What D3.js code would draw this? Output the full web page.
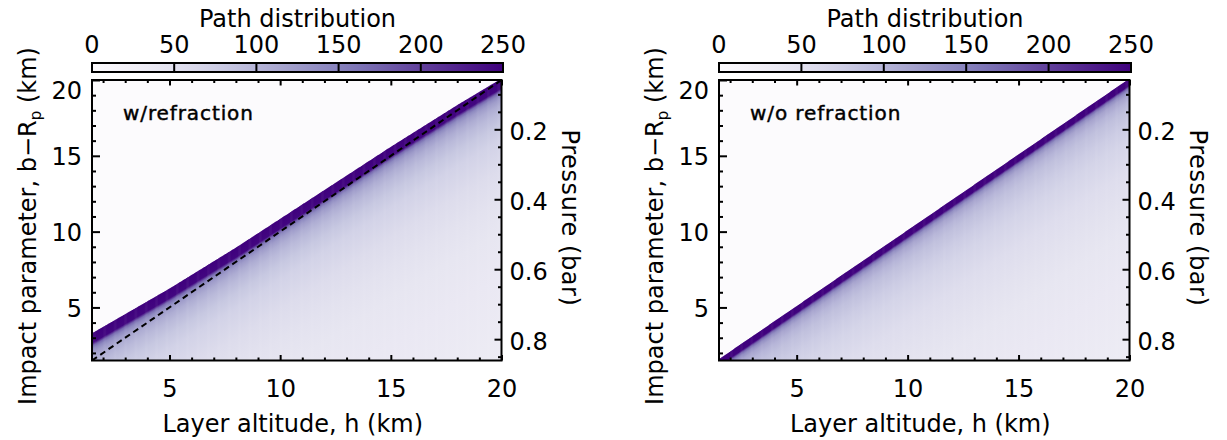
<!DOCTYPE html>
<html><head><meta charset="utf-8">
<script src="https://cdn.jsdelivr.net/npm/d3@7"></script>
<style>
body{margin:0;background:#fff}
text{font-family:"DejaVu Sans",sans-serif;fill:#000}
</style>
</head><body>
<svg id="c" width="1227" height="440"></svg>
<script>
// ---------------- data ----------------
const altDomain = [1.5, 20];          // layer altitude h (km)
const impactDomain = [1.5, 20];       // impact parameter b-Rp (km)
const pressureDomain = [0.059, 0.861];// pressure (bar), top -> bottom
const altTicks = [5, 10, 15, 20];
const altMinor = [2,3,4,6,7,8,9,11,12,13,14,16,17,18,19];
const impactTicks = [5, 10, 15, 20];
const impactMinor = [2,3,4,6,7,8,9,11,12,13,14,16,17,18,19];
const pressureTicks = [0.2, 0.4, 0.6, 0.8];
const pressureMinor = [0.1,0.15,0.25,0.3,0.35,0.45,0.5,0.55,0.65,0.7,0.75,0.85];
const cbarTicks = [0, 50, 100, 150, 200, 250];
const panelLabels = ["w/refraction", "w/o refraction"];
// top edge of the path-distribution peak: offset (b - h) in km vs layer altitude
const refrPeakH = [1.5, 5, 8, 10, 15, 18, 20];
const refrPeakOffset = [1.8, 1.25, 0.95, 0.85, 0.6, 0.35, 0.1];
const noRefrPeakH = [1.5, 20];
const noRefrPeakOffset = [0.1, 0.1];
// path distribution vs depth below the peak top (km)
const refrDepth = [0, 0.65, 0.85, 1.05, 1.3, 1.7, 2.2, 3, 4, 6, 8, 10, 13, 19];
const refrValue = [250, 245, 170, 142, 124, 108, 96, 82, 70, 57, 49, 43, 38, 32];
const noRefrDepth = [0, 0.45, 0.6, 0.78, 1.05, 1.5, 2, 3, 4, 6, 8, 10, 13, 18.5];
const noRefrValue = [250, 248, 170, 138, 116, 100, 90, 77, 68, 56, 48, 43, 38, 32];
// geometric (straight-line) tangent b = h
const geomLine = [[1.5, 1.5], [20, 20]];

// ---------------- layout ----------------
const svg = d3.select("#c");
const defs = svg.append("defs");
const color = d3.scaleSequential(d3.interpolatePurples).domain([0, 250]);
const panels = [
  {x0: 92, x1: 501.5, peakH: refrPeakH, peakOff: refrPeakOffset, depth: refrDepth, value: refrValue, dashed: true},
  {x0: 719, x1: 1129.5, peakH: noRefrPeakH, peakOff: noRefrPeakOffset, depth: noRefrDepth, value: noRefrValue, dashed: false}
];
const y0 = 80, y1 = 360.5;
let gid = 0;

panels.forEach((p, pi) => {
  const x = d3.scaleLinear().domain(altDomain).range([p.x0, p.x1]);
  const y = d3.scaleLinear().domain(impactDomain).range([y1, y0]);
  const yP = d3.scaleLinear().domain(pressureDomain).range([y0, y1]);
  const g = svg.append("g");

  const cid = "clip" + pi;
  defs.append("clipPath").attr("id", cid).append("rect")
    .attr("x", p.x0).attr("y", y0).attr("width", p.x1 - p.x0).attr("height", y1 - y0);

  const field = g.append("g").attr("clip-path", `url(#${cid})`);
  field.append("rect").attr("x", p.x0).attr("y", y0).attr("width", p.x1 - p.x0).attr("height", y1 - y0)
    .attr("fill", color(0));

  const offS = d3.scaleLinear().domain(p.peakH).range(p.peakOff);
  const maxD = p.depth[p.depth.length - 1];
  const step = 0.05;
  const edges = d3.range(altDomain[0], altDomain[1] + 1e-9, step);
  for (let i = 0; i < edges.length - 1; i++) {
    const ha = edges[i], hb = edges[i + 1], hm = (ha + hb) / 2;
    const bm = hm + offS(hm);
    const id = "g" + (gid++);
    const grad = defs.append("linearGradient").attr("id", id)
      .attr("gradientUnits", "userSpaceOnUse")
      .attr("x1", x(hm)).attr("x2", x(hm))
      .attr("y1", y(bm)).attr("y2", y(bm - maxD));
    p.depth.forEach((d, k) => grad.append("stop")
      .attr("offset", d / maxD).attr("stop-color", color(p.value[k])));
    const xa = x(ha), xb = x(hb) + 0.6;
    field.append("path")
      .attr("d", `M${xa},${y(ha + offS(ha))}L${xb},${y(hb + offS(hb))}L${xb},${y1}L${xa},${y1}Z`)
      .attr("fill", `url(#${id})`);
  }

  if (p.dashed) {
    field.append("path").datum(geomLine)
      .attr("d", d3.line().x(d => x(d[0])).y(d => y(d[1])))
      .attr("fill", "none").attr("stroke", "#000").attr("stroke-width", 2)
      .attr("stroke-dasharray", "6,4");
  }

  const fontSize = 24;
  const bottom = g.append("g").attr("transform", `translate(0,${y1})`)
    .call(d3.axisBottom(x).tickValues(altTicks).tickSizeInner(-5.5).tickSizeOuter(0).tickFormat(d3.format("d")));
  bottom.selectAll("text").attr("dy", null).attr("y", 36.5).style("font-size", fontSize + "px");
  g.append("g").attr("transform", `translate(0,${y1})`)
    .call(d3.axisBottom(x).tickValues(altMinor).tickSizeInner(-3).tickSizeOuter(0).tickFormat(""));
  g.append("g").attr("transform", `translate(0,${y0})`)
    .call(d3.axisTop(x).tickValues(altTicks).tickSizeInner(-5.5).tickSizeOuter(0).tickFormat(""));
  g.append("g").attr("transform", `translate(0,${y0})`)
    .call(d3.axisTop(x).tickValues(altMinor).tickSizeInner(-3).tickSizeOuter(0).tickFormat(""));

  const left = g.append("g").attr("transform", `translate(${p.x0},0)`)
    .call(d3.axisLeft(y).tickValues(impactTicks).tickSizeInner(-8).tickSizeOuter(0).tickPadding(10).tickFormat(d3.format("d")));
  left.selectAll("text").attr("dy", null)
    .attr("y", d => Math.max(9, y0 + 18 - y(d))).style("font-size", fontSize + "px");
  g.append("g").attr("transform", `translate(${p.x0},0)`)
    .call(d3.axisLeft(y).tickValues(impactMinor).tickSizeInner(-4).tickSizeOuter(0).tickFormat(""));

  const right = g.append("g").attr("transform", `translate(${p.x1},0)`)
    .call(d3.axisRight(yP).tickValues(pressureTicks).tickSizeInner(-7).tickSizeOuter(0).tickPadding(8).tickFormat(d3.format(".1f")));
  right.selectAll("text").attr("dy", null).attr("y", 10).style("font-size", fontSize + "px");
  g.append("g").attr("transform", `translate(${p.x1},0)`)
    .call(d3.axisRight(yP).tickValues(pressureMinor).tickSizeInner(-3.5).tickSizeOuter(0).tickFormat(""));

  g.selectAll(".domain").remove();
  g.selectAll(".tick line").attr("stroke", "#000").attr("stroke-width", 2);

  g.append("rect").attr("x", p.x0).attr("y", y0).attr("width", p.x1 - p.x0).attr("height", y1 - y0)
    .attr("fill", "none").attr("stroke", "#000").attr("stroke-width", 2);

  g.append("text").attr("x", p.x0 + 31).attr("y", 120).style("font-size", "20px")
    .style("letter-spacing", "0.9px").attr("stroke", "#000").attr("stroke-width", 0.45)
    .text(panelLabels[pi]);

  g.append("text").attr("x", (p.x0 + p.x1) / 2 - 4).attr("y", 432).attr("text-anchor", "middle")
    .style("font-size", fontSize + "px").text("Layer altitude, h (km)");
  const yt = g.append("text").attr("transform", `translate(${p.x0 - 56},226) rotate(-90)`)
    .attr("text-anchor", "middle").style("font-size", fontSize + "px");
  yt.append("tspan").text("Impact parameter, b\u2212R");
  yt.append("tspan").attr("dy", 5).style("font-size", "15px").text("p");
  yt.append("tspan").attr("dy", -5).text(" (km)");
  g.append("text").attr("transform", `translate(${p.x1 + 60},218) rotate(90)`)
    .attr("text-anchor", "middle").style("font-size", fontSize + "px")
    .style("letter-spacing", "0.6px").text("Pressure (bar)");

  const cx = d3.scaleLinear().domain([cbarTicks[0], cbarTicks[cbarTicks.length - 1]]).range([p.x0, p.x1 + 1.5]);
  const cgid = "cbar" + pi;
  const cg = defs.append("linearGradient").attr("id", cgid);
  d3.range(0, 1.0001, 0.05).forEach(t => cg.append("stop").attr("offset", t).attr("stop-color", d3.interpolatePurples(t)));
  const cb = svg.append("g");
  cb.append("rect").attr("x", cx(0)).attr("y", 63).attr("width", cx(250) - cx(0)).attr("height", 9)
    .attr("fill", `url(#${cgid})`).attr("stroke", "#000").attr("stroke-width", 2);
  cb.selectAll("line.div").data(cbarTicks.slice(1, -1)).join("line")
    .attr("x1", d => cx(d)).attr("x2", d => cx(d)).attr("y1", 63).attr("y2", 72)
    .attr("stroke", "#000").attr("stroke-width", 2);
  cb.selectAll("text.lab").data(cbarTicks).join("text")
    .attr("x", d => cx(d)).attr("y", 52.7).attr("text-anchor", "middle")
    .style("font-size", fontSize + "px").text(d => d);
  cb.append("text").attr("x", (cx(0) + cx(250)) / 2).attr("y", 26.7).attr("text-anchor", "middle")
    .style("font-size", fontSize + "px").text("Path distribution");
});
</script>
</body></html>
